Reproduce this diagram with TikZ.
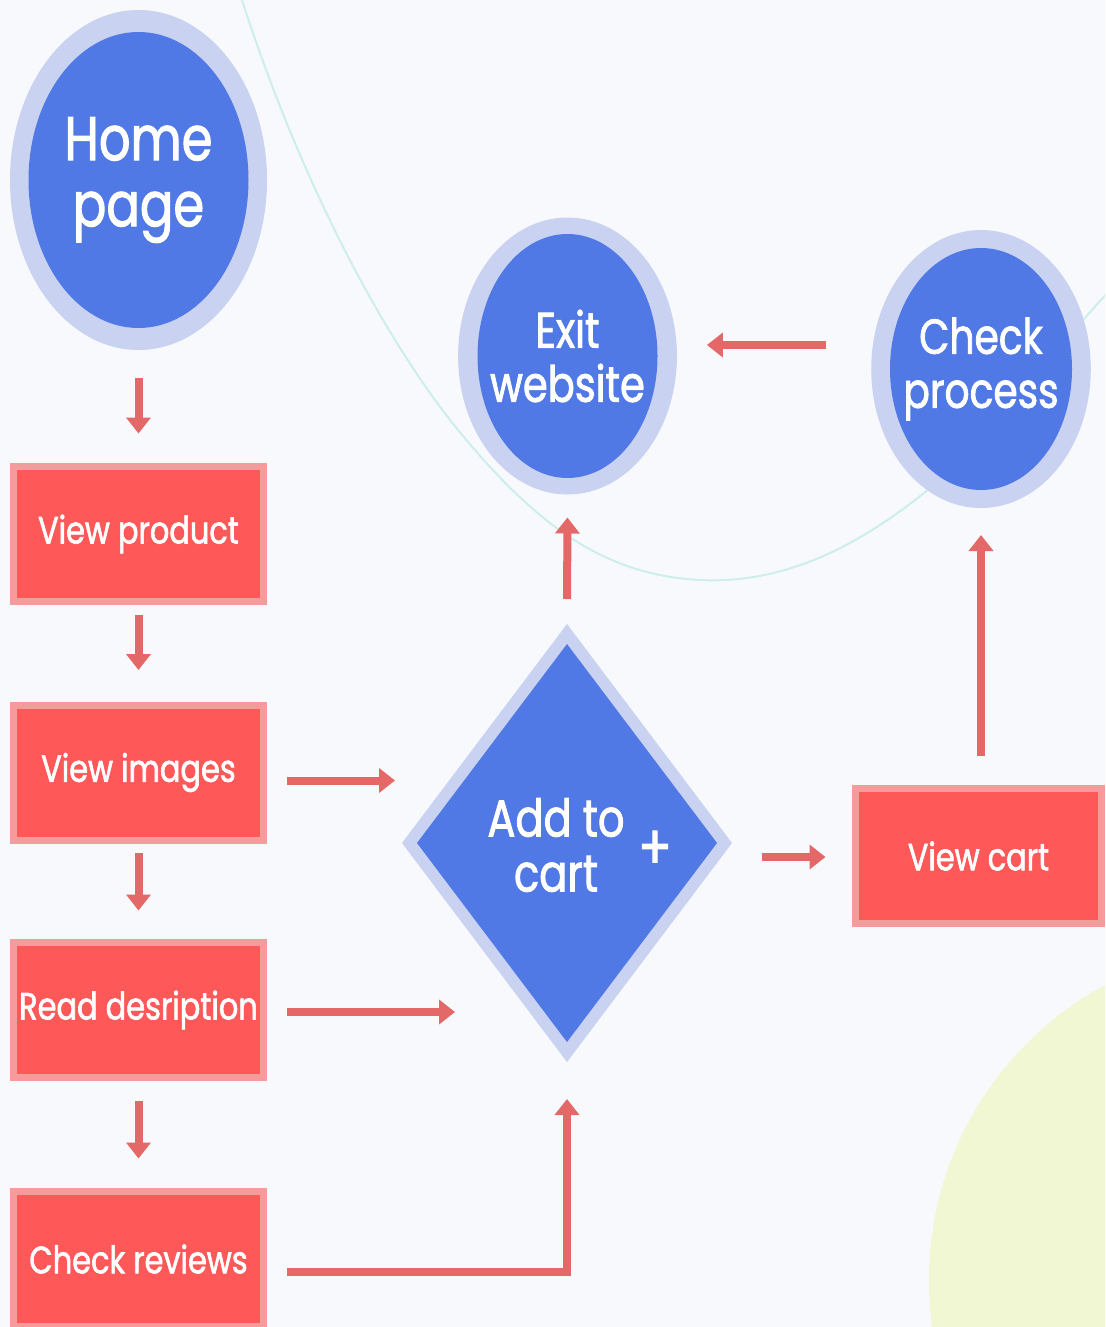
\documentclass[tikz,border=0pt]{standalone}
\usepackage{fontspec}
\newfontfamily\pf[FakeStretch=0.8, FakeBold=1.6]{Poppins}
\usetikzlibrary{shapes.geometric,arrows.meta,calc}
\definecolor{bgC}{HTML}{F8F9FD}
\definecolor{blueC}{HTML}{5079E5}
\definecolor{ringC}{HTML}{C9D2F0}
\definecolor{redC}{HTML}{FF5858}
\definecolor{pinkC}{HTML}{F49C9C}
\definecolor{arrC}{HTML}{E46868}
\definecolor{curveC}{HTML}{CDEEEA}
\definecolor{yelC}{HTML}{F1F6D3}
\tikzset{
  bubble/.style n args={4}{ellipse, fill=ringC, inner sep=0pt, outer sep=0pt,
    minimum width=#1, minimum height=#2, text=white, align=center,
    path picture={\fill[blueC] (path picture bounding box.center) ellipse [x radius=#3pt, y radius=#4pt];}},
  dshape/.style={diamond, fill=ringC, inner sep=0pt, outer sep=0pt,
    minimum width=330, minimum height=438,
    path picture={\fill[blueC] ($(path picture bounding box.center)+(0,-199)$) -- ++(150,199) -- ++(-150,199) -- ++(-150,-199) -- cycle;}},
  box/.style={rectangle, fill=redC, draw=pinkC, line width=7pt, outer sep=0pt,
    minimum width=250, minimum height=135, text=white, font=\pf\fontsize{38}{44}\selectfont},
  lbl/.style={text=white, align=center, inner sep=0pt},
  arr/.style={draw=arrC, line width=8pt, -{Triangle[length=16pt,width=24pt]}}
}
\begin{document}
\begin{tikzpicture}[x=1pt,y=-1pt]
\useasboundingbox (0,0) rectangle (1105,1327);
\fill[bgC] (0,0) rectangle (1105,1327);
\begin{scope}
\clip (0,0) rectangle (1105,1327);
\fill[yelC] (1264,1280) circle [radius=335pt];
\draw[curveC, line width=2pt] (242,0) .. controls (300,180) and (380,330) .. (450,420)
  .. controls (530,520) and (600,575) .. (700,580)
  .. controls (800,585) and (880,530) .. (940,480)
  .. controls (1000,430) and (1060,340) .. (1120,280);
\end{scope}

% circles
\node[bubble={257}{340}{110}{148}, font=\pf\fontsize{62}{66}\selectfont] (home) at (138.5,180) {Home\\page};
\node[bubble={205}{277}{90}{122}, font=\pf\fontsize{50}{54}\selectfont] (exit) at (567.5,356) {Exit\\website};
\node[bubble={208}{278}{91}{121}, font=\pf\fontsize{49}{54}\selectfont] (check) at (981,369) {Check\\process};

% diamond
\node[dshape] (dia) at (567,843) {};
\node[lbl, font=\pf\fontsize{52}{55}\selectfont] (diatxt) at (556,845) {Add to\\cart};
\node[lbl, font=\pf\fontsize{62}{62}\selectfont] (plus) at (655,850) {+};

% boxes
\node[box] (vp) at (138.5,534) {View product};
\node[box] (vi) at (138.5,772.5) {View images};
\node[box] (rd) at (138.5,1010) {Read desription};
\node[box] (cr) at (138.5,1259) {Check reviews};
\node[box, minimum width=246] (vc) at (978.5,856) {View cart};

% connectors
\draw[arr, shorten <=28pt, shorten >=33pt] (home.south) -- (vp.north);
\draw[arr, shorten <=13pt, shorten >=35pt] (vp.south) -- (vi.north);
\draw[arr, shorten <=13pt, shorten >=32pt] (vi.south) -- (rd.north);
\draw[arr, shorten <=23pt, shorten >=33pt] (rd.south) -- (cr.north);
\draw[arr, shorten <=23pt, shorten >=7pt] ([yshift=-8pt]vi.east) -- ([yshift=-8pt]vi.east -| dia.west);
\draw[arr, shorten <=23pt] ([yshift=-2pt]rd.east) -- ($([yshift=-2pt]rd.east -| dia.west)+(53,0)$);
\draw[arr, shorten >=37pt] ([xshift=23pt,yshift=-13pt]cr.east) -| (dia.south);
\draw[arr, shorten <=25pt, shorten >=23pt] (dia.north) -- (exit.south);
\draw[arr, shorten <=45pt, shorten >=30pt] (check.west |- 0,345) -- (exit.east |- 0,345);
\draw[arr, shorten <=30pt, shorten >=30pt] (dia.east |- 0,857) -- (vc.west |- 0,857);
\draw[arr, shorten <=33pt, shorten >=27pt] (check.south |- vc.north) -- (check.south);
\end{tikzpicture}
\end{document}
